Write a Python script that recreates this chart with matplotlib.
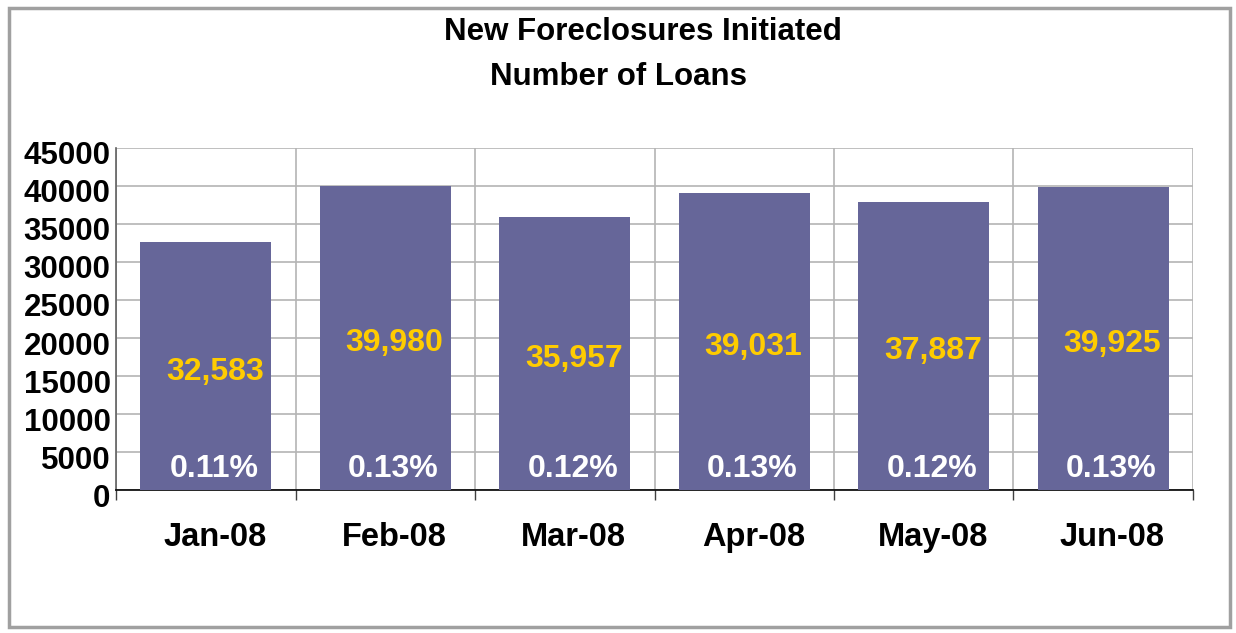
import matplotlib
matplotlib.use("Agg")
import matplotlib.pyplot as plt
from matplotlib.patches import Rectangle
from matplotlib.ticker import FixedLocator
from matplotlib.transforms import ScaledTranslation

months = ["Jan-08", "Feb-08", "Mar-08", "Apr-08", "May-08", "Jun-08"]
loans = [32583, 39980, 35957, 39031, 37887, 39925]
pct_labels = ["0.11%", "0.13%", "0.12%", "0.13%", "0.12%", "0.13%"]
yticks = [0, 5000, 10000, 15000, 20000, 25000, 30000, 35000, 40000, 45000]

plt.rcParams['font.family'] = ['Liberation Sans', 'DejaVu Sans']

fig = plt.figure(figsize=(12.36, 6.33), dpi=100)
fig.patch.set_facecolor('white')
fig.patches.append(Rectangle((0.0075, 0.009), 0.988, 0.978, transform=fig.transFigure,
                             fill=False, edgecolor='#a0a0a0', linewidth=2.5))

ax = fig.add_axes([0.0939, 0.2259, 0.8713, 0.5403])
x = list(range(len(months)))
bars = ax.bar(x, loans, width=0.73, color='#666699', zorder=3)

ax.set_xlim(-0.5, len(months) - 0.5)
ax.set_ylim(0, 45000)
ax.set_yticks(yticks)
ax.set_yticklabels([str(v) for v in yticks], fontsize=22.5, fontweight='bold')
ax.set_xticks(x)
ax.set_xticklabels(months, fontsize=23.5, fontweight='bold')
ax.tick_params(axis='x', which='major', length=0, pad=23)
ax.tick_params(axis='y', which='major', length=0, pad=4)
ax.xaxis.set_minor_locator(FixedLocator([i - 0.5 for i in range(len(months) + 1)]))
ax.tick_params(axis='x', which='minor', length=7, width=1, color='#404040', direction='out')

yoff = ScaledTranslation(0, -5 / 100, fig.dpi_scale_trans)
for lbl in ax.get_yticklabels():
    lbl.set_transform(lbl.get_transform() + yoff)
xoff = ScaledTranslation(9 / 100, 0, fig.dpi_scale_trans)
for lbl in ax.get_xticklabels():
    lbl.set_transform(lbl.get_transform() + xoff)

ax.grid(axis='y', which='major', color='#b4b4b4', linewidth=1.2, zorder=0)
ax.grid(axis='x', which='minor', color='#b4b4b4', linewidth=1.2, zorder=0)
ax.set_axisbelow(True)

for s in ['top', 'right']:
    ax.spines[s].set_visible(False)
ax.spines['left'].set_color('#606060')
ax.spines['left'].set_linewidth(1.2)
ax.spines['bottom'].set_color('black')
ax.spines['bottom'].set_linewidth(1.2)

for xi, v, p in zip(x, loans, pct_labels):
    ax.text(xi + 0.05, v / 2 - 700, f"{v:,}", ha='center', va='center',
            fontsize=23, fontweight='bold', color='#FFCC00', zorder=4)
    ax.text(xi + 0.045, 2800, p, ha='center', va='center',
            fontsize=23, fontweight='bold', color='white', zorder=4)

fig.text(0.52, 0.949, "New Foreclosures Initiated", ha='center', va='center',
         fontsize=22.5, fontweight='bold')
fig.text(0.50, 0.878, "Number of Loans", ha='center', va='center',
         fontsize=22.5, fontweight='bold')

fig.savefig("out.png", dpi=100, facecolor='white')
